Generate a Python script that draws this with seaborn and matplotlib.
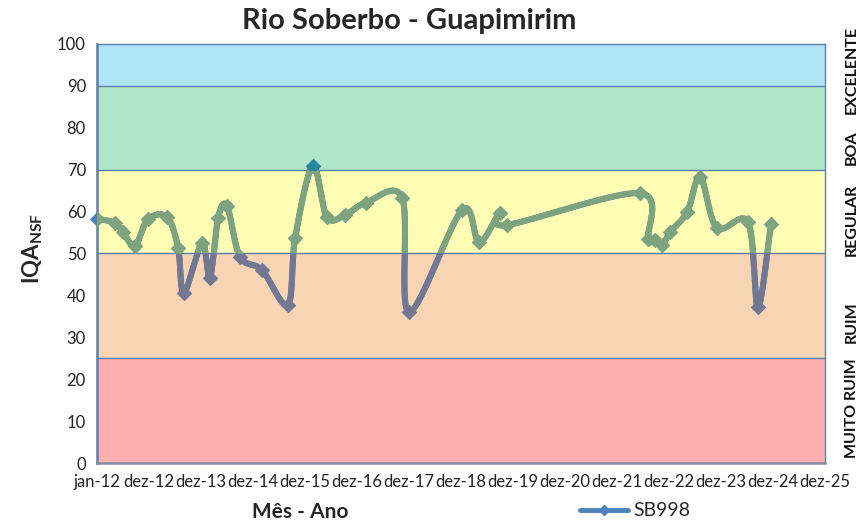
import numpy as np
import pandas as pd
import seaborn as sns
import matplotlib
matplotlib.use("Agg")
import matplotlib.pyplot as plt
from matplotlib.patches import Rectangle
from matplotlib.lines import Line2D

# tempo em anos contados a partir de jan-12 (1 unidade = 1 marca do eixo)
tempo = [0.00, 0.35, 0.50, 0.73, 0.98, 1.35, 1.56, 1.67, 2.02, 2.17,
         2.33, 2.50, 2.75, 3.17, 3.67, 3.81, 4.15, 4.42, 4.77, 5.17,
         5.87, 6.00, 7.02, 7.35, 7.75, 7.88, 10.44, 10.60, 10.73, 10.87,
         11.02, 11.35, 11.60, 11.92, 12.52, 12.71, 12.96]
iqa = [58.3, 57.3, 55.1, 51.8, 58.2, 58.7, 51.3, 40.6, 52.5, 44.1,
       58.5, 61.3, 49.2, 46.1, 37.7, 53.7, 70.9, 58.7, 59.2, 62.1,
       63.2, 36.0, 60.4, 52.7, 59.7, 56.8, 64.4, 53.5, 53.2, 52.0,
       55.1, 59.9, 68.3, 56.1, 57.5, 37.2, 57.0]

rotulos_x = ["jan-12"] + ["dez-%d" % a for a in range(12, 26)]

faixas_lim = [0, 25, 50, 70, 90, 100]
faixas_nome = ["MUITO RUIM", "RUIM", "REGULAR", "BOA", "EXCELENTE"]
faixas_cor = ["#FEB0B0", "#F6D4B4", "#FEFDB4", "#B0E6C8", "#B0E4F6"]
linha_cor = ["#8B7F9A", "#747792", "#7DA47F", "#28879A", "#3F8FB5"]
nome_y = [13, 33.6, 58, 75.2, 93.8]

sns.set_style("white")
plt.rcParams["font.family"] = ["Lato", "DejaVu Sans"]
plt.rcParams["mathtext.fontset"] = "custom"
plt.rcParams["mathtext.bf"] = "Lato:bold"

fig = plt.figure(figsize=(8.64, 5.24), dpi=100)
ax = fig.add_axes([97 / 864, 1 - 463 / 524, 728 / 864, 419 / 524])

# curva suavizada (estilo Excel, Bezier com tensao 1/6)
P = np.column_stack([tempo, iqa])
ext = np.vstack([P[0], P, P[-1]])
s = np.linspace(0, 1, 40)[:, None]
pts = []
for i in range(len(P) - 1):
    p0, p3 = P[i], P[i + 1]
    c1 = p0 + (ext[i + 2] - ext[i]) / 6
    c2 = p3 - (ext[i + 3] - ext[i + 1]) / 6
    seg = ((1 - s) ** 3) * p0 + 3 * ((1 - s) ** 2) * s * c1 + 3 * (1 - s) * s ** 2 * c2 + s ** 3 * p3
    pts.append(seg if i == 0 else seg[1:])
curva = pd.DataFrame(np.vstack(pts), columns=["t", "v"])
df = pd.DataFrame({"t": tempo, "v": iqa})

# faixas de qualidade
for lo, hi, c in zip(faixas_lim[:-1], faixas_lim[1:], faixas_cor):
    ax.axhspan(lo, hi, color=c, zorder=0.5, lw=0)
for lim in faixas_lim[1:-1]:
    ax.axhline(lim, color="#5B80B0", lw=1, zorder=1)

# linha azul base (so aparece fora da area do grafico)
sns.lineplot(data=curva, x="t", y="v", sort=False, estimator=None, ax=ax,
             color="#4F81BD", lw=4.3, clip_on=False, zorder=2)
sns.scatterplot(data=df, x="t", y="v", marker="D", s=60, color="#4F81BD",
                linewidth=0, ax=ax, clip_on=False, zorder=2)

# linha colorida por faixa
for lo, hi, c in zip(faixas_lim[:-1], faixas_lim[1:], linha_cor):
    sns.lineplot(data=curva, x="t", y="v", sort=False, estimator=None, ax=ax,
                 color=c, lw=4.3, zorder=3)
    ln = ax.lines[-1]
    sns.scatterplot(data=df, x="t", y="v", marker="D", s=60, color=c,
                    linewidth=0, ax=ax, zorder=3)
    sc = ax.collections[-1]
    for art in (ln, sc):
        r = Rectangle((0, lo), 14, hi - lo, transform=ax.transData)
        art.set_clip_path(r)

ax.set_xlim(0, 14)
ax.set_ylim(0, 100)
ax.set_xticks(range(len(rotulos_x)))
ax.set_xticklabels(rotulos_x)
ax.set_yticks(range(0, 101, 10))
ax.set_xlabel("")
ax.set_ylabel("")
ax.tick_params(axis="both", direction="out", length=5, width=1, color="#868686",
               labelsize=12, labelcolor="#222222", pad=3)
for sp in ax.spines.values():
    sp.set_visible(True)
    sp.set_color("#5B80B0")
    sp.set_linewidth(1)
ax.spines["left"].set_linewidth(1.8)
ax.spines["bottom"].set_linewidth(1.8)
ax.spines["bottom"].set_color("#7F8CA6")

for nome, y in zip(faixas_nome, nome_y):
    ax.text(1.037, y, nome, transform=ax.get_yaxis_transform(), rotation=90,
            ha="center", va="center", fontsize=11.5, fontweight="bold", color="#111111")

fig.text(409 / 864, 1 - 21 / 524, "Rio Soberbo - Guapimirim", ha="center", va="center",
         fontsize=21, fontweight="bold")
fig.text(33 / 864, 1 - 248 / 524, r"$\mathbf{IQA}_{\mathbf{NSF}}$", rotation=90,
         ha="center", va="center", fontsize=16)
fig.text(300 / 864, 1 - 512 / 524, "Mês - Ano", ha="center", va="center",
         fontsize=15, fontweight="bold")

h = Line2D([], [], color="#4F81BD", lw=3.5, marker="D", ms=5)
fig.legend(handles=[h], labels=["SB998"], loc="center left",
           bbox_to_anchor=(570 / 864, 1 - 511 / 524), frameon=False,
           fontsize=14, handlelength=2.5, handletextpad=0.25, borderpad=0)

fig.savefig("out.png", dpi=100)
